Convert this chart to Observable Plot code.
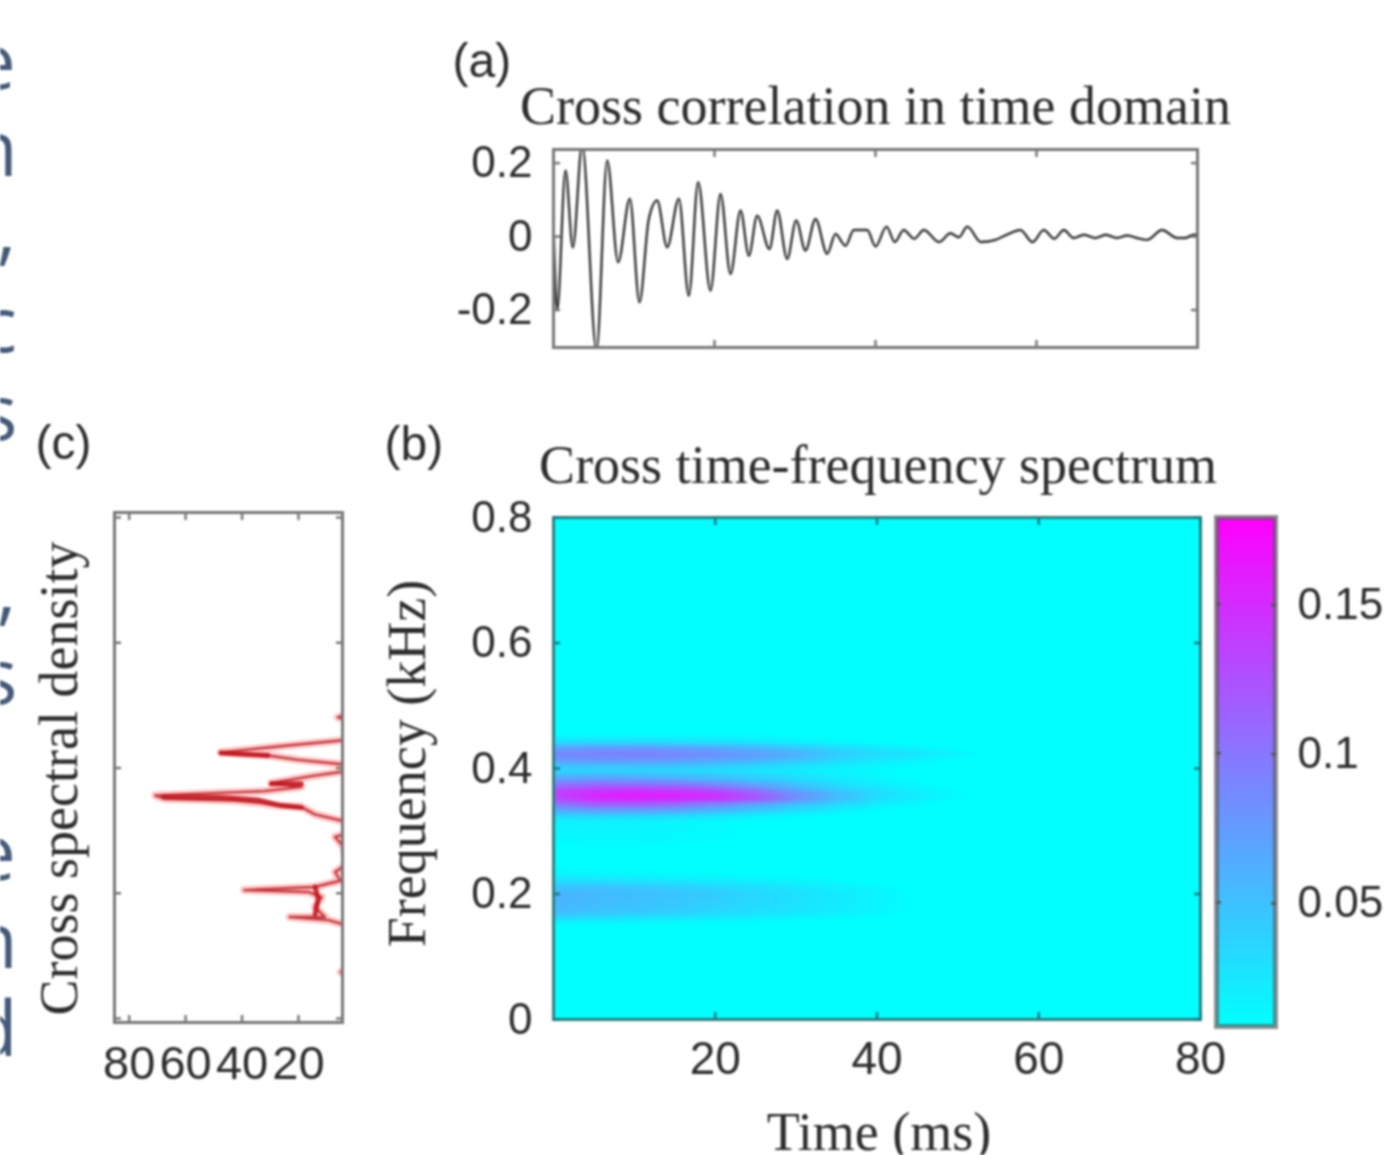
<!DOCTYPE html>
<html><head><meta charset="utf-8">
<script src="https://cdn.jsdelivr.net/npm/d3@7"></script>
<script src="https://cdn.jsdelivr.net/npm/@observablehq/plot@0.6"></script>
<style>
html,body{margin:0;padding:0;background:#fff;overflow:hidden}
#page{position:relative;width:1385px;height:1155px;overflow:hidden}
#page>svg{position:absolute;background:transparent;max-width:none;filter:blur(0.8px)}
</style></head><body><div id="page"></div>
<script>
// Panel (a): cross correlation, turning points
const corrTime=[0.05,0.46,1.49,2.40,3.56,5.34,6.67,8.03,9.48,10.68,11.84,12.88,14.12,15.57,16.81,17.97,19.50,20.75,21.99,23.23,24.27,25.30,26.83,27.79,29.03,30.15,31.30,32.55,34.0,35.03,36.27,37.31,38.97,40.0,41.37,42.4,43.5,44.8,46,47.9,49.3,50.35,51.4,53.1,54.9,56.4,58,59.5,60.9,62.2,63.4,64.6,65.9,67.3,68.6,70,71.3,72.5,73.75,75.6,77.5,78.5,79.5,80];
const corrValue=[0.0,-0.20,0.18,-0.03,0.25,-0.31,0.207,-0.07,0.103,-0.179,0.048,0.098,-0.029,0.103,-0.161,0.148,-0.147,0.116,-0.102,0.071,-0.052,0.057,-0.034,0.071,-0.061,0.044,-0.038,0.048,-0.047,0.007,-0.025,0.018,0.018,-0.027,0.027,-0.015,0.018,-0.006,0.018,-0.015,0.009,-0.002,0.027,-0.015,-0.009,0.006,0.018,-0.015,0.018,-0.006,0.018,-0.004,0.005,-0.004,0.005,-0.004,0.003,-0.004,-0.009,0.018,-0.004,-0.004,0.005,0.005];

// Panel (b): time-frequency magnitude, rows by frequency, columns by time
const tfTime=[0,5,10,15,20,25,30,35,40,45,50,55,60,80];
const tfFreq=[0.8,0.46,0.442,0.433,0.423,0.413,0.405,0.396,0.383,0.37,0.362,0.352,0.343,0.335,0.324,0.316,0.284,0.252,0.226,0.21,0.199,0.172,0.162,0.151,0.125,0];
const tfValues=[
[0,0,0,0,0,0,0,0,0,0,0,0,0,0],
[0,0,0,0,0,0,0,0,0,0,0,0,0,0],
[.03,.032,.032,.03,.028,.024,.018,.012,.009,.005,.002,0,0,0],
[.07,.075,.075,.072,.066,.056,.045,.032,.024,.016,.008,0,0,0],
[.088,.092,.095,.09,.084,.075,.062,.043,.033,.026,.016,.006,0,0],
[.075,.078,.078,.075,.068,.06,.048,.034,.024,.016,.008,0,0,0],
[.05,.052,.052,.05,.045,.038,.03,.022,.015,.009,.003,0,0,0],
[.036,.036,.036,.034,.03,.025,.02,.014,.01,.004,0,0,0,0],
[.073,.076,.072,.066,.056,.044,.033,.022,.015,.008,.003,0,0,0],
[.115,.125,.125,.12,.105,.08,.056,.036,.024,.014,.006,0,0,0],
[.135,.15,.155,.15,.14,.115,.08,.052,.032,.02,.011,.003,0,0],
[.13,.15,.158,.155,.148,.125,.085,.055,.03,.02,.01,.003,0,0],
[.1,.115,.115,.105,.088,.07,.05,.034,.02,.012,.004,0,0,0],
[.07,.08,.08,.075,.062,.048,.034,.022,.013,.006,0,0,0,0],
[.035,.036,.035,.032,.026,.018,.012,.007,.003,0,0,0,0,0],
[.017,.018,.017,.015,.012,.008,.004,0,0,0,0,0,0,0],
[.011,.012,.012,.011,.01,.008,.004,0,0,0,0,0,0,0],
[0,0,0,0,0,0,0,0,0,0,0,0,0,0],
[.022,.02,.018,.016,.014,.012,.01,.008,.004,0,0,0,0,0],
[.05,.05,.047,.042,.036,.03,.025,.019,.013,.006,0,0,0,0],
[.06,.056,.052,.048,.042,.035,.029,.023,.016,.008,0,0,0,0],
[.055,.05,.046,.042,.036,.03,.026,.02,.015,.008,0,0,0,0],
[.032,.03,.027,.024,.021,.018,.015,.012,.008,.004,0,0,0,0],
[.01,.01,.009,.008,.006,.005,.004,0,0,0,0,0,0,0],
[0,0,0,0,0,0,0,0,0,0,0,0,0,0],
[0,0,0,0,0,0,0,0,0,0,0,0,0,0]];
const colorDomain=[0.0084,0.179];
const colorRange=["#00ffff","#ff00ff"];

// Panel (c): cross spectral density, clipped by the frame
const csdFreq=[.55,.486,.481,.476,.445,.444,.436,.425,.420,.413,.406,.394,.387,.376,.370,.363,.356,.351,.348,.344,.340,.338,.326,.314,.295,.290,.274,.245,.242,.234,.220,.210,.205,.202,.194,.178,.162,.162,.157,.149,.08,.074,.068];
const csdValue=[2,2,6,2,3,5,23.7,47.5,30.8,20.1,4.4,4.4,15.4,29.6,19,32,70.7,67.7,42.7,33.2,27.9,19,14.2,3,3,7,4,3,4.4,7,5.2,14.2,39.2,16.5,11.8,14.2,10.6,23.1,9.4,3,2,5,2];
// Dense, saturated stretches of the trace
const csdCoreFreq=[.424,.420,NaN,.375,.375,NaN,.354,.353,.349,.340,.337,NaN,.210,.191,.167];
const csdCoreValue=[47.5,30.8,NaN,29.6,19,NaN,67.7,47.5,34.4,26.1,19,NaN,14.1,13,14.1];

// Tick labels
const corrYTicks=[-0.2,0,0.2];
const timeTicks=[20,40,60,80];
const freqTicks=[0,0.2,0.4,0.6,0.8];
const csdTicks=[80,60,40,20];
const barTicks=[0.05,0.1,0.15];

// Cut-off last letters of the neighbouring text column, by line number
const columnLines=[0,1,1.9,3,4,6,7,9,10,11];
const columnLetters=["e","n",",","c","s",",","s","e","n","d"];

const SANS="Liberation Sans, Arial, sans-serif";
const SERIF="Liberation Serif, Times New Roman, serif";
const FRAME="#777777";
const INK="#2c2c2c";

const page=document.getElementById("page");
function place(svg,left,top){svg.style.left=left+"px";svg.style.top=top+"px";page.appendChild(svg);}
const fmt=d=>String(d);
const frame=Plot.frame({stroke:FRAME,strokeWidth:3});

// (a)
place(Plot.plot({
  width:800,height:350,marginLeft:113,marginRight:43,marginTop:119,marginBottom:33,
  style:{background:"transparent",color:INK},
  x:{domain:[0,80]},y:{domain:[-0.302,0.237]},
  marks:[
    Plot.line(corrTime,{x:d=>d,y:(d,i)=>corrValue[i],stroke:"#333",strokeWidth:2.4,curve:"monotone-x",clip:true}),
    frame,
    Plot.axisY(corrYTicks,{anchor:"left",tickSize:-7,tickPadding:28,fontSize:44,fontFamily:SANS,tickFormat:fmt,label:null,fill:INK,stroke:FRAME,strokeWidth:2.5}),
    Plot.axisY(corrYTicks,{anchor:"right",tickSize:-7,tickFormat:()=>"",label:null,stroke:FRAME,strokeWidth:2.5}),
    Plot.axisX(timeTicks,{anchor:"bottom",tickSize:-7,tickFormat:()=>"",label:null,stroke:FRAME,strokeWidth:2.5}),
    Plot.axisX(timeTicks,{anchor:"top",tickSize:-7,tickFormat:()=>"",label:null,stroke:FRAME,strokeWidth:2.5}),
    Plot.text(["(a)"],{frameAnchor:"top-left",dx:-101,dy:-107,textAnchor:"start",lineAnchor:"top",fontSize:48,fontFamily:SANS,fill:INK}),
    Plot.text(["Cross correlation in time domain"],{frameAnchor:"top",dy:-43,lineAnchor:"middle",dx:0,fontSize:54,fontFamily:SERIF,fill:INK})
  ]
}),440,30);

// (b)
const tfPoints=tfFreq.flatMap((f,r)=>tfTime.map((t,c)=>({t,f,v:tfValues[r][c]})));
place(Plot.plot({
  width:880,height:735,marginLeft:173,marginRight:60,marginTop:97,marginBottom:136,
  style:{background:"transparent",color:INK},
  x:{domain:[0,80]},y:{domain:[0,0.8]},
  color:{type:"linear",domain:colorDomain,range:colorRange,clamp:true},
  marks:[
    Plot.raster(tfPoints,{x:"t",y:"f",fill:"v",interpolate:"barycentric"}),
    Plot.frame({stroke:"#2f7f80",strokeWidth:3}),
    Plot.axisY(freqTicks,{anchor:"left",tickSize:-7,tickPadding:28,fontSize:44,fontFamily:SANS,tickFormat:fmt,label:null,fill:INK,stroke:"#1a7a80",strokeWidth:2.5}),
    Plot.axisY(freqTicks,{anchor:"right",tickSize:-7,tickFormat:()=>"",label:null,stroke:"#1a7a80",strokeWidth:2.5}),
    Plot.axisX(timeTicks,{anchor:"bottom",tickSize:-7,tickPadding:29,fontSize:46,fontFamily:SANS,tickFormat:fmt,label:null,fill:INK,stroke:"#1a7a80",strokeWidth:2.5}),
    Plot.axisX(timeTicks,{anchor:"top",tickSize:-7,tickFormat:()=>"",label:null,stroke:"#1a7a80",strokeWidth:2.5}),
    Plot.text(["(b)"],{frameAnchor:"top-left",dx:-169,dy:-92,textAnchor:"start",lineAnchor:"top",fontSize:48,fontFamily:SANS,fill:INK}),
    Plot.text(["Cross time-frequency spectrum"],{frameAnchor:"top",dy:-52,lineAnchor:"middle",dx:1,fontSize:54,fontFamily:SERIF,fill:INK}),
    Plot.text(["Time (ms)"],{frameAnchor:"bottom",dy:113,lineAnchor:"middle",dx:2,fontSize:54,fontFamily:SERIF,fill:INK}),
    Plot.text(["Frequency (kHz)"],{frameAnchor:"left",dx:-146,dy:-5,rotate:-90,textAnchor:"middle",lineAnchor:"middle",fontSize:54,fontFamily:SERIF,fill:INK})
  ]
}),380,420);

// colour bar
place(Plot.plot({
  width:180,height:560,marginLeft:11,marginRight:110,marginTop:17,marginBottom:34,
  style:{background:"transparent",color:INK},
  x:{domain:[0,1],axis:null},y:{domain:colorDomain},
  color:{type:"linear",domain:colorDomain,range:colorRange,clamp:true},
  marks:[
    Plot.raster({x1:0,x2:1,y1:colorDomain[0],y2:colorDomain[1],width:4,height:255,fill:(x,y)=>y,interpolate:"none"}),
    Plot.frame({stroke:"#555",strokeOpacity:0.65,strokeWidth:5}),
    Plot.axisY(barTicks,{anchor:"right",tickSize:-5,tickPadding:27,dy:1,fontSize:44,fontFamily:SANS,tickFormat:fmt,label:null,fill:INK,stroke:"#555",strokeWidth:2.5}),
    Plot.axisY(barTicks,{anchor:"left",tickSize:-5,tickFormat:()=>"",label:null,stroke:"#555",strokeWidth:2.5})
  ]
}),1205,500);

// (c)
place(Plot.plot({
  width:320,height:700,marginLeft:84,marginRight:8,marginTop:92,marginBottom:98,
  style:{background:"transparent",color:INK},
  x:{domain:[85.2,4.4]},y:{domain:[-0.0064,0.808]},
  marks:[
    Plot.line(csdFreq,{x:(d,i)=>csdValue[i],y:d=>d,stroke:"#ff6a6a",strokeOpacity:0.4,strokeWidth:8,clip:true}),
    Plot.line(csdFreq,{x:(d,i)=>csdValue[i],y:d=>d,stroke:"#b81a22",strokeOpacity:0.8,strokeWidth:2.4,clip:true}),
    Plot.line(csdCoreFreq,{x:(d,i)=>csdCoreValue[i],y:d=>d,stroke:"#c2141c",strokeOpacity:0.85,strokeWidth:5,clip:true}),
    frame,
    Plot.axisX(csdTicks,{anchor:"bottom",tickSize:-7,tickPadding:30,fontSize:47,fontFamily:SANS,tickFormat:fmt,label:null,fill:INK,stroke:FRAME,strokeWidth:2.5}),
    Plot.axisX(csdTicks,{anchor:"top",tickSize:-7,tickFormat:()=>"",label:null,stroke:FRAME,strokeWidth:2.5}),
    Plot.axisY(freqTicks,{anchor:"left",tickSize:-7,tickFormat:()=>"",label:null,stroke:FRAME,strokeWidth:2.5}),
    Plot.axisY(freqTicks,{anchor:"right",tickSize:-7,tickFormat:()=>"",label:null,stroke:FRAME,strokeWidth:2.5}),
    Plot.text(["(c)"],{frameAnchor:"top-left",dx:-79,dy:-88,textAnchor:"start",lineAnchor:"top",fontSize:48,fontFamily:SANS,fill:INK}),
    Plot.text(["Cross spectral density"],{frameAnchor:"left",dx:-55,dy:11,rotate:-90,textAnchor:"middle",lineAnchor:"middle",fontSize:54,fontFamily:SERIF,fill:INK})
  ]
}),30,420);

// neighbouring column remnants: each glyph is set so that its ink ends where the reference's does
const glyphEnd={"e":15.2,"n":17,",":15.6,"c":16.3,"s":16.8,"d":17.1};
place(Plot.plot({
  width:30,height:1155,margin:0,
  style:{background:"transparent"},
  x:{axis:null,domain:[0,1]},y:{axis:null,domain:[0,11],range:[88,1055]},
  marks:columnLetters.map((ch,i)=>Plot.text([ch],{y:()=>columnLines[i],frameAnchor:"left",dx:glyphEnd[ch],textAnchor:"end",lineAnchor:"bottom",fontSize:76,fontFamily:"Open Sans, sans-serif",fill:"#445a78"}))
}),0,0);
</script></body></html>
